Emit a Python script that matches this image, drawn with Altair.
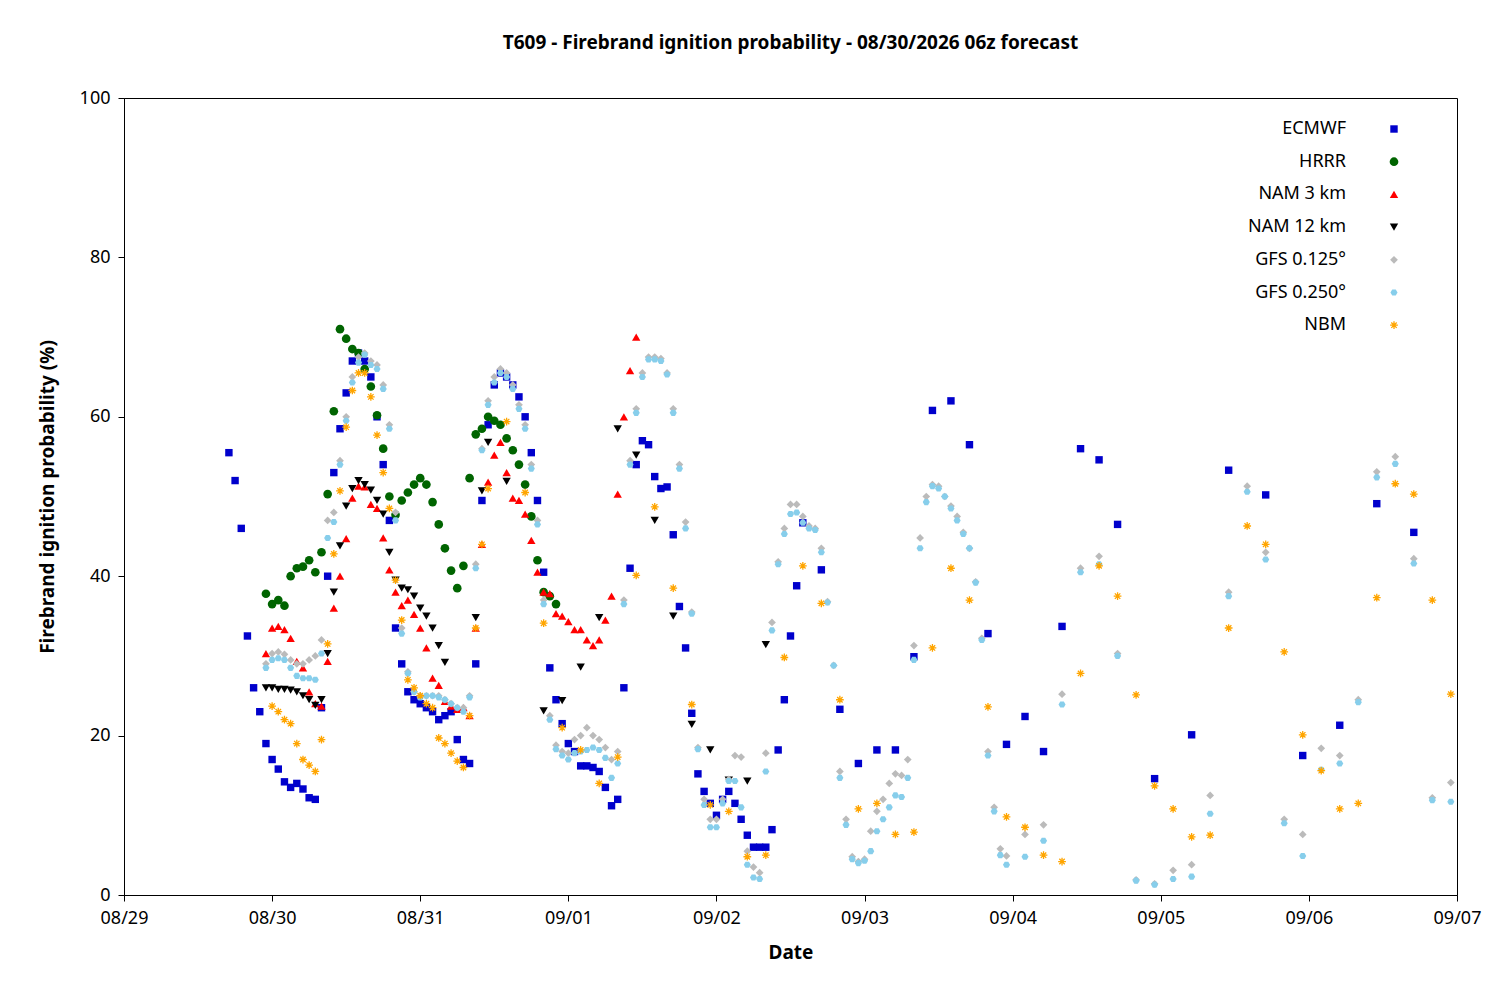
import altair as alt
import pandas as pd

# horas desde 08/29 00z
DATAS = ["08/29", "08/30", "08/31", "09/01", "09/02", "09/03", "09/04", "09/05", "09/06", "09/07"]

ecmwf_hourly = [55.5, 52, 46, 32.5, 26, 23, 19, 17, 15.8, 14.2, 13.5, 14, 13.3, 12.2, 12,
                23.5, 40, 53, 58.5, 63, 67, 68, 67, 65, 60, 54, 47, 33.5, 29, 25.5, 24.5, 24, 23.5, 23, 22, 22.5, 23, 19.5, 17, 16.5,
                29, 49.5, 59, 64, 65.5, 65, 64, 62.5, 60, 55.5, 49.5, 40.5, 28.5, 24.5, 21.5, 19, 18, 16.2, 16.2, 16, 15.5, 13.5, 11.2, 12,
                26, 41, 54, 57, 56.5, 52.5, 51, 51.2, 45.2, 36.2, 31, 22.8, 15.2, 13, 11.5, 10, 12, 13, 11.5, 9.5, 7.5, 6, 6, 6, 8.2, 18.2, 24.5, 32.5, 38.8]
ecmwf_3h = [46.7, 40.8, 23.3, 16.5, 18.2, 18.2, 29.9, 60.8, 62, 56.5, 32.8, 18.9, 22.4, 18, 33.7, 56, 54.6, 46.5]
ecmwf_6h = [14.6, 20.1, 53.3, 50.2, 17.5, 21.3, 49.1, 45.5]

hrrr = [37.8, 36.5, 37, 36.3, 40, 41, 41.2, 42, 40.5, 43, 50.3, 60.7, 71, 69.8, 68.5, 68, 66, 63.8, 60.2, 56, 50, 47.7,
        49.5, 50.5, 51.5, 52.3, 51.5, 49.3, 46.5, 43.5, 40.7, 38.5, 41.3, 52.3, 57.8, 58.5, 60, 59.5, 59, 57.3, 55.8, 54,
        51.5, 47.5, 42, 38, 37.5, 36.5]

nam3 = [30.3, 33.5, 33.7, 33.3, 32.2, 29.3, 28.5, 25.5, 24, 23.7, 29.3, 36, 40, 44.7, 49.8, 51.3, 51.2, 49, 48.5, 44.8,
        40.8, 38, 36.3, 37, 35.2, 33.5, 31, 27.2, 26.3, 24.3, 23.7, 23.3, 23.5, 22.5, 33.5, 44, 51.8, 55.2, 56.8, 53,
        49.8, 49.5, 47.8, 44.5, 40.5, 38, 37.8, 35.3, 35, 34.3, 33.3, 33.3, 32, 31.3, 32, 34.5, 37.5, 50.3, 60, 65.8, 70]

nam12_hourly = [26, 26, 25.8, 25.8, 25.7, 25.5, 25, 24.5, 23.8, 24.5, 30.3, 38, 43.8, 48.8, 51, 52, 51.5, 50.8, 49.5, 47.8,
                43, 39.5, 38.5, 38.3, 37.5, 36, 35, 33.5, 31.3, 29.2]
nam12_horas = [57, 58, 59, 62, 68, 71, 74, 77, 80, 83, 86, 89, 92, 95, 98, 101, 104]
nam12_extra = [34.8, 50.7, 56.8, 51.9, 23.1, 24.4, 28.6, 34.8, 58.5, 55.2, 47, 35, 21.4, 18.2, 14.4, 14.3, 31.4]

gfs025_hourly = [28.5, 29.5, 29.7, 29.5, 28.5, 27.5, 27.2, 27.2, 27,
                 30.3, 44.8, 46.8, 54, 59.5, 64.3, 66.8, 67.8, 66.5, 66, 63.5, 58.5, 47, 32.8, 27.8, 25.5, 24.8, 25, 25, 24.8, 24.5, 24, 23.5, 23, 24.8,
                 41, 55.8, 61.5, 64.3, 65.5, 65, 63.5, 61, 58.5, 53.5, 46.5, 36.5, 22, 18.3, 17.5, 17, 17.8, 18, 18.2, 18.5, 18.2, 17.2, 14.7, 16.5,
                 36.5, 54, 60.5, 65, 67.2, 67.2, 67, 65.3, 60.5, 53.5, 46, 35.3, 18.3, 11.3, 8.5, 8.5, 11.5, 14.3, 14.3, 11, 3.8, 2.2, 2,
                 15.5, 33.2, 41.5, 45.3, 47.8, 48, 46.7, 46, 45.8, 43, 36.7, 28.8, 14.7, 8.8, 4.5, 4, 4.3, 5.5, 8, 9.5, 11, 12.5, 12.3, 14.7,
                 29.5, 43.5, 49.3, 51.3, 51, 50, 48.5, 47, 45.3, 43.5, 39.2, 32, 17.5, 10.5, 5, 3.8]
gfs025_3h = [4.8, 6.8, 23.9, 40.5, 41.5, 30, 1.8, 1.3, 2, 2.3, 10.2, 37.5, 50.6, 42.1, 9, 4.9, 15.7, 16.5, 24.2, 52.4, 54.1, 41.6, 11.9, 11.7]

gfs0125_hourly = [29, 30.3, 30.5, 30.2, 29.5, 29, 29, 29.5, 30,
                  32, 47, 48, 54.5, 60, 65, 67.5, 68, 67, 66.5, 64, 59, 48, 33.5, 28, 25.5, 25, 25, 25, 25, 24.5, 24, 23.5, 23.5, 25,
                  41.5, 56, 62, 65, 66, 65.5, 64, 61.5, 59, 54, 47, 37, 22.5, 18.8, 18, 17.8, 19.5, 20, 21, 20, 19.5, 18.5, 17, 18,
                  37, 54.5, 61, 65.5, 67.5, 67.5, 67.3, 65.5, 61, 54, 46.8, 35.5, 18.5, 12, 9.5, 9.5, 12, 14.5, 17.5, 17.3, 5.5, 3.5, 2.8,
                  17.8, 34.2, 41.8, 46, 49, 49, 47.5, 46.3, 46, 43.5, 36.8, 28.8, 15.5, 9.5, 4.8, 4.2, 4.5, 8, 10.5, 12, 14, 15.2, 15, 17,
                  31.3, 44.8, 50, 51.5, 51.3, 50, 48.8, 47.5, 45.5, 43.5, 39.3, 32.2, 18, 11, 5.8, 4.9]
gfs0125_3h = [7.6, 8.8, 25.2, 41, 42.5, 30.3, 1.9, 1.4, 3.1, 3.8, 12.5, 38, 51.3, 43, 9.5, 7.6, 18.4, 17.5, 24.5, 53.1, 55, 42.2, 12.2, 14.1]

nbm_hourly = [23.7, 23, 22, 21.5, 19, 17, 16.3, 15.5, 19.5, 31.5, 42.8, 50.7, 58.7, 63.3, 65.5, 65.5, 62.5, 57.7, 53, 48.5,
              39.5, 34.5, 27, 26, 25, 24, 23.5, 19.7, 19, 17.8, 16.8, 16, 22.5, 33.5, 44, 51]
nbm_3h = [59.4, 50.5, 34.1, 21, 18.2, 14, 17.3, 40.1, 48.7, 38.5, 23.9, 11.3, 10.5, 4.8, 5, 29.8, 41.3, 36.6, 24.5, 10.8,
          11.5, 7.6, 7.9, 31, 41, 37, 23.6, 9.8, 8.5, 5, 4.2, 27.8, 41.3, 37.5, 25.1, 13.7, 10.8, 7.3, 7.5, 33.5, 46.3, 44,
          30.5, 20.1, 15.6, 10.8, 11.5, 37.3, 51.6, 50.3, 37, 25.2]


def serie(nome, partes):
    horas, valores = [], []
    for inicio, passo, vals in partes:
        horas += [inicio + passo * i for i in range(len(vals))]
        valores += vals
    return pd.DataFrame({"hora": horas, "valor": valores, "modelo": nome})


ecmwf = serie("ECMWF", [(17, 1, ecmwf_hourly), (110, 3, ecmwf_3h), (167, 6, ecmwf_6h)])
hrrr_df = serie("HRRR", [(23, 1, hrrr)])
nam3_df = serie("NAM 3 km", [(23, 1, nam3)])
nam12_df = pd.concat([serie("NAM 12 km", [(23, 1, nam12_hourly)]),
                      pd.DataFrame({"hora": nam12_horas, "valor": nam12_extra, "modelo": "NAM 12 km"})])
gfs0125 = serie("GFS 0.125°", [(23, 1, gfs0125_hourly), (146, 3, gfs0125_3h)])
gfs025 = serie("GFS 0.250°", [(23, 1, gfs025_hourly), (146, 3, gfs025_3h)])
nbm = serie("NBM", [(24, 1, nbm_hourly), (62, 3, nbm_3h)])

HEX = "M1,0L0.5,0.866L-0.5,0.866L-1,0L-0.5,-0.866L0.5,-0.866Z"
AST = "M-1,0L1,0M0,-1L0,1M-0.7,-0.7L0.7,0.7M-0.7,0.7L0.7,-0.7"

# (df, forma, cor, preenchido, tamanho)
estilos = [
    (ecmwf, "square", "#0000CC", True, 55),
    (hrrr_df, "circle", "#006400", True, 75),
    (nam3_df, "triangle-up", "#FF0000", True, 70),
    (nam12_df, "triangle-down", "#000000", True, 70),
    (gfs0125, "diamond", "#BBBBBB", True, 60),
    (gfs025, HEX, "#87CEEB", True, 50),
    (nbm, AST, "#FFA500", False, 60),
]

eixo_x = alt.X("hora:Q", title="Date", scale=alt.Scale(domain=[0, 216], nice=False),
               axis=alt.Axis(values=list(range(0, 217, 24)), grid=False, labelFlush=False,
                             labelExpr="['" + "','".join(DATAS) + "'][datum.value / 24]",
                             titlePadding=16))
eixo_y = alt.Y("valor:Q", title="Firebrand ignition probability (%)", scale=alt.Scale(domain=[0, 100], nice=False),
               axis=alt.Axis(values=list(range(0, 101, 20)), grid=False, labelFlush=False, titlePadding=22))

camadas = []
for df, forma, cor, cheio, tam in estilos:
    if cheio:
        m = alt.Chart(df).mark_point(shape=forma, filled=True, color=cor, size=tam, opacity=1)
    else:
        m = alt.Chart(df).mark_point(shape=forma, filled=False, color=cor, size=tam, strokeWidth=1.3, opacity=1)
    camadas.append(m.encode(x=eixo_x, y=eixo_y))

# legenda no estilo gnuplot: texto à esquerda, símbolo à direita
for i, (df, forma, cor, cheio, tam) in enumerate(estilos):
    yv = 31 + i * 32.7
    leg = pd.DataFrame({"nome": [df["modelo"].iloc[0]]})
    camadas.append(alt.Chart(leg).mark_text(align="right", baseline="middle", fontSize=18, font="Noto Sans")
                   .encode(text="nome:N", x=alt.value(1222), y=alt.value(yv)))
    if cheio:
        s = alt.Chart(leg).mark_point(shape=forma, filled=True, color=cor, size=tam, opacity=1)
    else:
        s = alt.Chart(leg).mark_point(shape=forma, filled=False, color=cor, size=tam, strokeWidth=1.3, opacity=1)
    camadas.append(s.encode(x=alt.value(1270), y=alt.value(yv)))

chart = alt.layer(*camadas).properties(
    width=1333, height=797,
    title=alt.TitleParams("T609 - Firebrand ignition probability - 08/30/2026 06z forecast",
                          fontSize=19, font="Noto Sans", fontWeight="bold", offset=36),
    autosize=alt.AutoSizeParams(type="none"),
    padding={"left": 116, "top": 90, "right": 30, "bottom": 90},
    background="white",
).configure_view(stroke="black", strokeWidth=1).configure_axis(
    labelFont="Noto Sans", titleFont="Noto Sans", labelFontSize=18, titleFontSize=19,
    labelColor="black", titleColor="black", domainColor="black", tickColor="black",
    titleFontWeight="bold", labelPadding=8, tickSize=6,
)

chart.save("out.html", embed_options={"renderer": "svg", "actions": False})
